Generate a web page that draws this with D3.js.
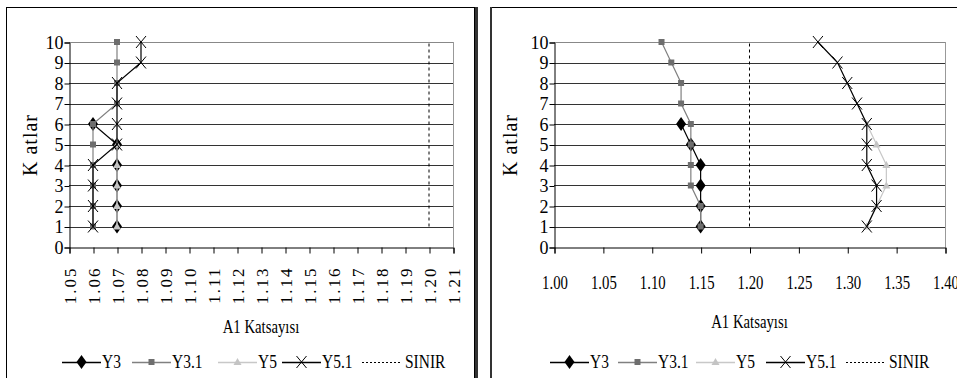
<!DOCTYPE html>
<html>
<head>
<meta charset="utf-8">
<script src="https://cdn.jsdelivr.net/npm/d3@7"></script>
<style>
body{margin:0;background:#fff;}
svg{display:block;}
</style>
</head>
<body>
<svg id="chart" width="957" height="378" font-family="Liberation Serif"></svg>
<script>
// kat numaralari
var floors6 = [1,2,3,4,5,6];
var floors10 = [1,2,3,4,5,6,7,8,9,10];
var yTicks = [0,1,2,3,4,5,6,7,8,9,10];

// sol grafik
var leftY3  = [1.07,1.07,1.07,1.07,1.07,1.06];
var leftY31 = [1.06,1.06,1.06,1.06,1.06,1.06,1.07,1.07,1.07,1.07];
var leftY5  = [1.07,1.07,1.07,1.07,1.07,1.07];
var leftY51 = [1.06,1.06,1.06,1.06,1.07,1.07,1.07,1.07,1.08,1.08];
var leftTicks = [1.05,1.06,1.07,1.08,1.09,1.10,1.11,1.12,1.13,1.14,1.15,1.16,1.17,1.18,1.19,1.20,1.21];

// sag grafik
var rightY3  = [1.15,1.15,1.15,1.15,1.14,1.13];
var rightY31 = [1.15,1.15,1.14,1.14,1.14,1.14,1.13,1.13,1.12,1.11];
var rightY5  = [1.32,1.33,1.34,1.34,1.33,1.32];
var rightY51 = [1.32,1.33,1.33,1.32,1.32,1.32,1.31,1.30,1.29,1.27];
var rightTicks = [1.00,1.05,1.10,1.15,1.20,1.25,1.30,1.35,1.40];

var sinirX = 1.20;
var sinirFloors = [1,10];
var seriesNames = ["Y3","Y3.1","Y5","Y5.1","SINIR"];

var FONT = "Liberation Serif";
var svg = d3.select("#chart");

// cerceveler
svg.append("rect").attr("x",6.5).attr("y",7.5).attr("width",468).attr("height",380)
	.attr("fill","none").attr("stroke","#000");
svg.append("rect").attr("x",475).attr("y",7).attr("width",3).attr("height",380).attr("fill","#333");
svg.append("rect").attr("x",491).attr("y",7.5).attr("width",480).attr("height",380)
	.attr("fill","none").attr("stroke","#000").attr("stroke-width",1);
svg.append("rect").attr("x",490).attr("y",7).attr("width",2).attr("height",380).attr("fill","#333");

drawChart({
	left:69, right:453, domain:[1.05,1.21], ticks:leftTicks, rotated:true,
	s:[leftY3,leftY31,leftY5,leftY51], titleY:333, ylabX:30,
	legend:[62,132,218,282,362]
});
drawChart({
	left:554, right:945, domain:[1.00,1.40], ticks:rightTicks, rotated:false,
	s:[rightY3,rightY31,rightY5,rightY51], titleY:328, ylabX:510,
	legend:[550,618,696,766,846]
});

function drawChart(o){
	var top = 42, bottom = 247;
	var x = d3.scaleLinear().domain(o.domain).range([o.left,o.right]);
	var y = d3.scaleLinear().domain([0,10]).range([bottom,top]);
	var g = svg.append("g");

	// yatay cizgiler
	g.selectAll("line.grid").data(yTicks.slice(1)).enter().append("line")
		.attr("x1",o.left).attr("x2",o.right)
		.attr("y1",function(d){return Math.round(y(d))+0.5;})
		.attr("y2",function(d){return Math.round(y(d))+0.5;})
		.attr("stroke",function(d){return d==10 ? "#888" : "#333";});
	g.append("line").attr("x1",o.right+0.5).attr("x2",o.right+0.5).attr("y1",top).attr("y2",bottom)
		.attr("stroke","#999");

	// eksenler
	var yAx = d3.axisLeft(y).tickValues(yTicks).tickSize(5).tickFormat(d3.format("d"));
	var ya = g.append("g").attr("transform","translate("+(o.left+0.5)+",0.5)").call(yAx);
	ya.attr("font-family",FONT);
	ya.select(".domain").attr("stroke","#000");
	ya.selectAll("text").attr("font-family",FONT).attr("font-size",18).attr("fill","#000").attr("x",-6);

	var xAx = d3.axisBottom(x).tickValues(o.ticks).tickSize(6).tickFormat(d3.format(".2f"));
	var xa = g.append("g").attr("transform","translate(0.5,"+(bottom+0.5)+")").call(xAx);
	xa.attr("font-family",FONT);
	xa.select(".domain").attr("stroke","#000");
	if(o.rotated){
		xa.selectAll("text").attr("font-family",FONT).attr("font-size",17).attr("fill","#000")
			.attr("letter-spacing","2px")
			.attr("text-anchor","end").attr("dy","0.33em").attr("y",0).attr("x",-19)
			.attr("transform","rotate(-90)");
	} else {
		xa.selectAll("text").attr("font-family",FONT).attr("font-size",18).attr("fill","#000")
			.attr("y",0).attr("dy",0)
			.attr("transform","translate(0,41) scale(0.82,1)");
	}

	// eksen basliklari
	g.append("text").attr("font-family",FONT).attr("text-anchor","middle").attr("font-size",18)
		.attr("transform","translate("+((o.left+o.right)/2)+","+o.titleY+") scale(0.82,1)")
		.text("A1 Katsayısı");
	g.append("text").attr("font-family",FONT).attr("text-anchor","middle").attr("font-size",20).attr("letter-spacing","1px")
		.attr("transform","translate("+(o.ylabX+7)+",145) rotate(-90)")
		.text("K atlar");

	// SINIR
	var line = d3.line().x(function(d){return x(d[0]);}).y(function(d){return y(d[1]);});
	g.append("path").datum(sinirFloors.map(function(f){return [sinirX,f];}))
		.attr("d",line).attr("fill","none").attr("stroke","#000").attr("stroke-dasharray","3,3");

	var styles = [
		{c:"#000", m:"diamond", f:"#000"},
		{c:"#808080", m:"square", f:"#6e6e6e"},
		{c:"#c8c8c8", m:"triangle", f:"#c4c4c4"},
		{c:"#000", m:"x", f:"none"}
	];
	var floorSets = [floors6,floors10,floors6,floors10];

	o.s.forEach(function(vals,i){
		var pts = vals.map(function(v,k){return [v,floorSets[i][k]];});
		var sg = g.append("g");
		sg.append("path").datum(pts).attr("d",line).attr("fill","none")
			.attr("stroke",styles[i].c).attr("stroke-width",1.2);
		sg.selectAll("path.m").data(pts).enter().append("path").attr("class","m")
			.attr("transform",function(d){return "translate("+x(d[0])+","+y(d[1])+")";})
			.attr("d",markerPath(styles[i].m))
			.attr("fill",styles[i].f)
			.attr("stroke",styles[i].m=="x" ? "#000" : "none").attr("stroke-width",1);
	});

	// lejant
	var ly = 362;
	var lg = g.append("g");
	seriesNames.forEach(function(n,i){
		var lx = o.legend[i];
		var len = i==4 ? 38 : 39;
		lg.append("line").attr("x1",lx).attr("x2",lx+len).attr("y1",ly+0.5).attr("y2",ly+0.5)
			.attr("stroke",i==4 ? "#000" : styles[i].c).attr("stroke-width",i==4 ? 1 : 1.3)
			.attr("stroke-dasharray",i==4 ? "2,2" : null);
		if(i<4){
			lg.append("path").attr("transform","translate("+(lx+len/2)+","+ly+")")
				.attr("d",markerPath(styles[i].m)).attr("fill",styles[i].f)
				.attr("stroke",styles[i].m=="x" ? "#000" : "none");
		}
		lg.append("text").attr("font-family",FONT).attr("font-size",18)
			.attr("transform","translate("+(lx+len+(i==4?5:1))+","+(ly+6)+") scale(0.86,1)")
			.text(n);
	});
}

function markerPath(t){
	if(t=="diamond") return "M0,-7L5,0L0,7L-5,0Z";
	if(t=="square") return "M-3,-3H3V3H-3Z";
	if(t=="triangle") return "M0,-4L4,3H-4Z";
	return "M-5,-6L5,6M-5,6L5,-6";
}
</script>
</body>
</html>
